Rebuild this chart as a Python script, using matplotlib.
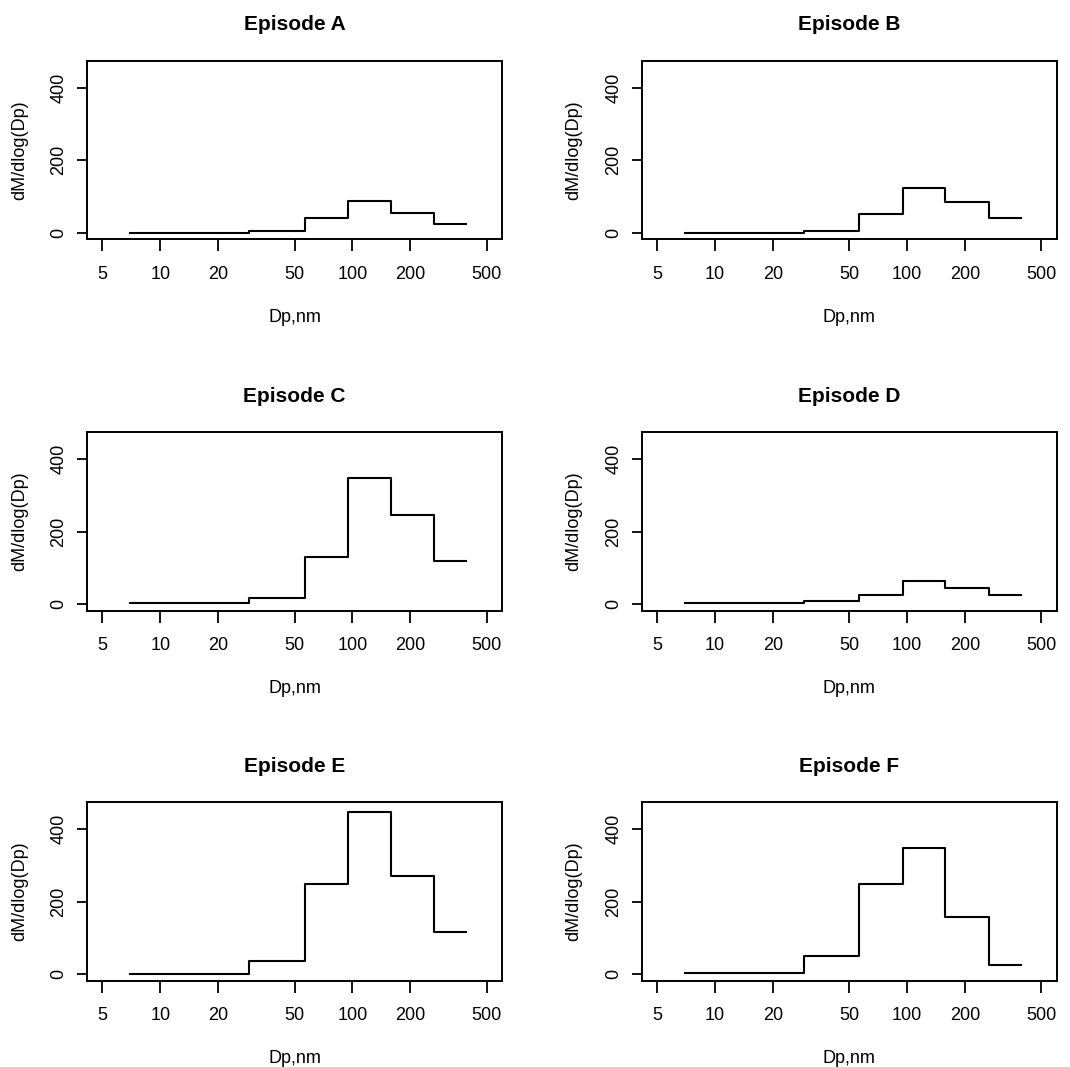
#!/usr/bin/env python3
"""
Mass size distributions (dM/dlog(Dp)) for six episodes, step plots on a log Dp axis.
"""

import matplotlib
matplotlib.use('Agg')
import matplotlib.pyplot as plt
import numpy as np

plt.rcParams['font.family'] = ['Liberation Sans', 'DejaVu Sans']

# stage edges (nm)
dp_edges = [7, 29, 56.5, 95, 158, 267, 390]

episodes = ['Episode A', 'Episode B', 'Episode C', 'Episode D', 'Episode E', 'Episode F']

ep_a = [0, 4.6, 41, 87, 55, 24]
ep_b = [0, 3.7, 51, 124, 86, 41]
ep_c = [3.7, 17, 131, 347, 247, 120]
ep_d = [3.7, 8, 26.5, 63, 44, 26.5]
ep_e = [0, 36, 248, 447, 270, 117]
ep_f = [4, 49, 248, 347, 158, 26]

x_ticks = [5, 10, 20, 50, 100, 200, 500]
y_ticks = [0, 200, 400]
y_max = 455


def main():
    fig = plt.figure(figsize=(10.7, 10.67), dpi=100)

    lefts = [0.0813, 0.5997]
    bottoms = [0.7757, 0.4276, 0.0809]
    w, h = 0.3879, 0.1671

    series = [ep_a, ep_b, ep_c, ep_d, ep_e, ep_f]
    for i, (name, vals) in enumerate(zip(episodes, series)):
        row, col = divmod(i, 2)
        ax = fig.add_axes([lefts[col], bottoms[row], w, h])
        ys = list(vals) + [vals[-1]]
        ax.step(dp_edges, ys, where='post', color='black', lw=1.5)

        ax.set_xscale('log')
        lo, hi = np.log10(5), np.log10(500)
        pad = 0.04 * (hi - lo)
        ax.set_xlim(10 ** (lo - pad), 10 ** (hi + pad))
        ax.set_ylim(-0.04 * y_max, 1.04 * y_max)

        ax.set_xticks(x_ticks)
        ax.set_xticklabels([str(t) for t in x_ticks])
        ax.xaxis.set_minor_locator(matplotlib.ticker.NullLocator())
        ax.set_yticks(y_ticks)
        ax.set_yticklabels([str(t) for t in y_ticks], rotation=90, va='center')

        ax.tick_params(axis='x', length=8.5, width=1.3, pad=10.5, labelsize=13)
        ax.tick_params(axis='y', length=7.5, width=1.3, pad=6.5, labelsize=13)
        for sp in ax.spines.values():
            sp.set_linewidth(1.4)

        ax.set_xlabel('Dp,nm', fontsize=13)
        ax.xaxis.set_label_coords(0.5, -0.39)
        ax.set_ylabel('dM/dlog(Dp)', fontsize=13)
        ax.yaxis.set_label_coords(-0.142, 0.5)
        ax.set_title(name, fontsize=15, fontweight='bold', pad=22)

    fig.savefig('out.png', dpi=100)


if __name__ == '__main__':
    main()
